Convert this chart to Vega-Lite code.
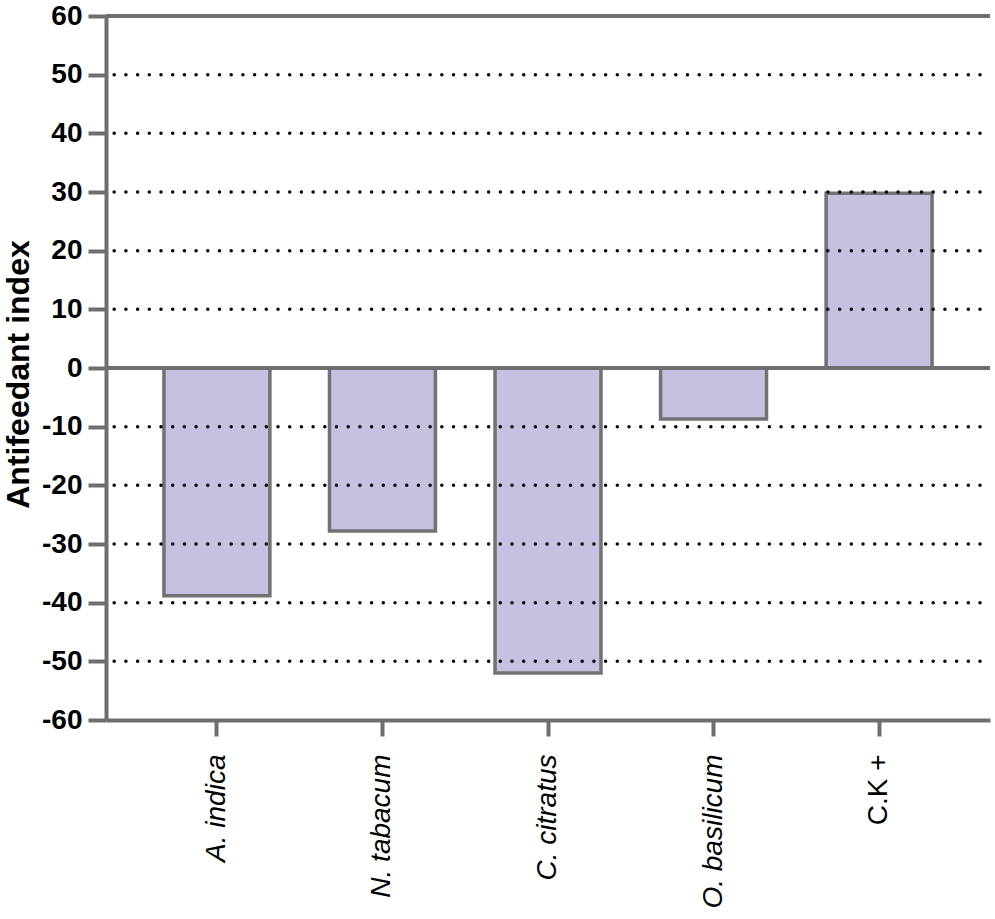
{
  "$schema": "https://vega.github.io/schema/vega-lite/v6.json",
  "autosize": "none",
  "width": 884,
  "height": 704,
  "padding": {"left": 106, "top": 16, "right": 5, "bottom": 199},
  "background": "white",
  "config": {
    "view": {"stroke": null},
    "font": "Liberation Sans"
  },
  "layer": [
    {
      "data": {"values": [
        {"plant": "A. indica", "index": -38.8},
        {"plant": "N. tabacum", "index": -27.8},
        {"plant": "C. citratus", "index": -52},
        {"plant": "O. basilicum", "index": -8.7},
        {"plant": "C.K +", "index": 29.8}
      ]},
      "mark": {"type": "bar", "fill": "#c5c2e1", "stroke": "#727272", "strokeWidth": 3.5},
      "encoding": {
        "x": {
          "field": "plant", "type": "nominal", "sort": null,
          "scale": {"paddingInner": 0.36, "paddingOuter": 0.35},
          "axis": {
            "title": null,
            "labelAngle": -90,
            "labelFontSize": 28,
            "labelColor": "black",
            "labelFont": "Liberation Sans",
            "labelFontStyle": {"condition": {"test": "datum.value == 'C.K +'", "value": "normal"}, "value": "italic"},
            "labelPadding": 18,
            "domainColor": "#6e6e6e",
            "domainWidth": 4,
            "tickColor": "#6e6e6e",
            "tickWidth": 4,
            "tickSize": 16,
            "grid": false
          }
        },
        "y": {
          "field": "index", "type": "quantitative",
          "scale": {"domain": [-60, 60], "nice": false},
          "axis": {
            "title": "Antifeedant index",
            "titleFontSize": 32,
            "titleFontWeight": "bold",
            "titleColor": "black",
            "titleAngle": -90,
            "titleAlign": "center",
            "titleBaseline": "alphabetic",
            "titleX": -78,
            "titleY": 358,
            "values": [-60, -50, -40, -30, -20, -10, 0, 10, 20, 30, 40, 50, 60],
            "labelExpr": "'' + datum.value",
            "labelFontSize": 28,
            "labelFontWeight": "bold",
            "labelColor": "black",
            "labelPadding": 6,
            "domainColor": "#6e6e6e",
            "domainWidth": 4,
            "tickColor": "#6e6e6e",
            "tickWidth": 4,
            "tickSize": 18,
            "grid": false
          }
        }
      }
    },
    {
      "data": {"values": [
        {"g": -50}, {"g": -40}, {"g": -30}, {"g": -20}, {"g": -10},
        {"g": 10}, {"g": 20}, {"g": 30}, {"g": 40}, {"g": 50}
      ]},
      "mark": {"type": "rule", "color": "black", "strokeWidth": 3.5, "strokeDash": [0, 11.7], "strokeCap": "round", "strokeDashOffset": -10},
      "encoding": {"y": {"field": "g", "type": "quantitative"}}
    },
    {
      "data": {"values": [{"r": 0}, {"r": 60}]},
      "mark": {"type": "rule", "color": "#6e6e6e", "strokeWidth": 4},
      "encoding": {"y": {"field": "r", "type": "quantitative"}}
    }
  ]
}
